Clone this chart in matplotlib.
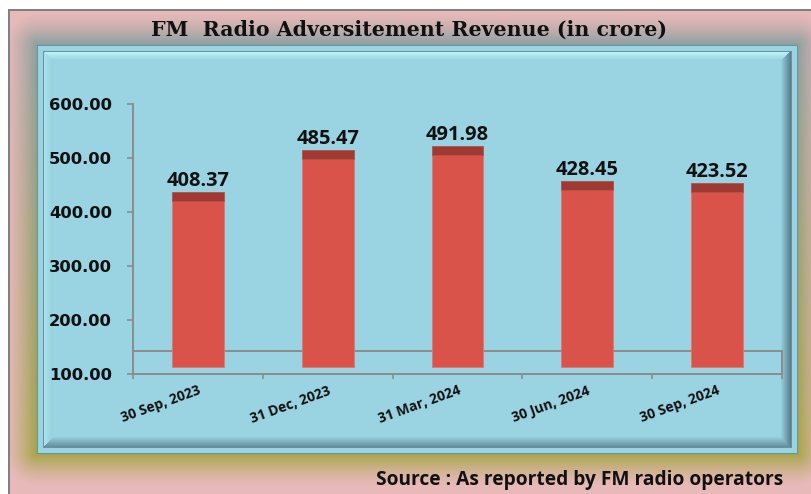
import numpy as np
import matplotlib
matplotlib.use("Agg")
import matplotlib.pyplot as plt
from matplotlib.transforms import offset_copy

# ---- data -------------------------------------------------------------
quarters = ["30 Sep, 2023", "31 Dec, 2023", "31 Mar, 2024", "30 Jun, 2024", "30 Sep, 2024"]
revenue = [408.37, 485.47, 491.98, 428.45, 423.52]
y_ticks = [100, 200, 300, 400, 500, 600]
y_min, y_max = 100, 600

title = "FM  Radio Adversitement Revenue (in crore)"
source = "Source : As reported by FM radio operators"

# ---- canvas -----------------------------------------------------------
W, H, DPI = 812, 494, 100
fig = plt.figure(figsize=(W / DPI, H / DPI), dpi=DPI)

yy, xx = np.mgrid[0:H, 0:W] + 0.5
img = np.ones((H, W, 3))

pink = np.array([231, 185, 184]) / 255
glow_top = np.array([140, 160, 160]) / 255
glow_bot = np.array([165, 165, 70]) / 255

# outer frame
frame = (xx >= 9) & (yy >= 10)
img[frame] = pink

# inner panel rectangle (pixels, top-down)
px0, px1, py0, py1 = 37, 797, 46, 453

# soft glow around panel
dx = np.maximum(np.maximum(px0 - xx, 0), xx - px1)
dy = np.maximum(np.maximum(py0 - yy, 0), yy - py1)
dist = np.hypot(dx, dy)
w = np.clip(1 - dist / 32.0, 0, 1) ** 1.3
t = np.clip((yy - py0) / (py1 - py0), 0, 1)[..., None]
gcol = glow_top * (1 - t) + glow_bot * t
blend = pink * (1 - w[..., None]) + gcol * w[..., None]
img[frame] = blend[frame]

# frame border
img[10:12, 9:] = np.array([128, 128, 128]) / 255
img[10:, 8:10] = np.array([128, 128, 128]) / 255

# panel fill
panel = np.array([154, 212, 227]) / 255
inside = (xx >= px0) & (xx <= px1) & (yy >= py0) & (yy <= py1)
img[inside] = panel

# bevel
bx0, bx1, by0, by1 = 43, 791, 52, 447
bw = 10.0
in_outer = (xx >= bx0) & (xx <= bx1) & (yy >= by0) & (yy <= by1)
in_inner = (xx >= bx0 + bw) & (xx <= bx1 - bw) & (yy >= by0 + bw) & (yy <= by1 - bw)
ring = in_outer & ~in_inner
dl, dr, dt, db = xx - bx0, bx1 - xx, yy - by0, by1 - yy
dstack = np.stack([dl, dr, dt, db])
side = np.argmin(dstack, axis=0)
dmin = np.min(dstack, axis=0)
tt = np.clip(dmin / bw, 0, 1)[..., None]
outer_cols = [np.array([170, 228, 238]) / 255,   # left
              np.array([88, 124, 138]) / 255,    # right
              np.array([195, 247, 253]) / 255,   # top
              np.array([100, 140, 155]) / 255]   # bottom
inner_col = np.array([150, 208, 222]) / 255
bev = np.zeros_like(img)
for k in range(4):
    c = outer_cols[k] * (1 - tt) + inner_col * tt
    m = side == k
    bev[m] = c[m]
img[ring] = bev[ring]

# thin panel outlines
line_dark = np.array([105, 145, 158]) / 255
for (x0, x1, y0, y1) in [(px0, px1, py0, py1), (bx0, bx1, by0, by1)]:
    img[y0, x0:x1 + 1] = line_dark
    img[y1, x0:x1 + 1] = line_dark
    img[y0:y1 + 1, x0] = line_dark
    img[y0:y1 + 1, x1] = line_dark

bg = fig.add_axes([0, 0, 1, 1], zorder=-5)
bg.imshow(img, extent=(0, W, H, 0), aspect="auto", interpolation="nearest")
bg.set_xlim(0, W)
bg.set_ylim(H, 0)
bg.axis("off")

# ---- chart axes -------------------------------------------------------
ax_l, ax_r, ax_top, ax_bot = 133, 782, 104.3, 373.6
ax = fig.add_axes([ax_l / W, (H - ax_bot) / H, (ax_r - ax_l) / W, (ax_bot - ax_top) / H])
ax.patch.set_alpha(0)
ax.set_xlim(0, len(quarters))
ax.set_ylim(y_min, y_max)

px_per_unit = (ax_bot - ax_top) / (y_max - y_min)
shift_px, cap_px, floor_px = 7.0, 9.0, 22.8
cap_units = cap_px / px_per_unit
floor_units = floor_px / px_per_unit

grey = "#8c8c8c"
bar_front = "#D9534A"
bar_top = "#9E3A31"

centers = np.arange(len(quarters)) + 0.5
shifted = offset_copy(ax.transData, fig=fig, x=0, y=shift_px * 72 / DPI, units="points")

# floor of the 3-D plot area
ax.plot([0, len(quarters)], [y_min + floor_units] * 2, color=grey, lw=1.4, zorder=1, clip_on=False)
ax.plot([len(quarters)] * 2, [y_min, y_min + floor_units], color=grey, lw=1.4, zorder=1, clip_on=False)

fronts = ax.bar(centers, [v - y_min for v in revenue], bottom=y_min, width=0.4,
                color=bar_front, edgecolor="#e2776e", linewidth=0.6, zorder=3)
tops = ax.bar(centers, [cap_units] * len(revenue), bottom=revenue, width=0.4,
              color=bar_top, edgecolor="#b65048", linewidth=0.6, zorder=3)
for p in list(fronts) + list(tops):
    p.set_transform(shifted)
    p.set_clip_on(False)

for xc, v in zip(centers, revenue):
    ax.annotate(f"{v:.2f}", (xc, v), xytext=(0, 22 * 72 / DPI), textcoords="offset points",
                ha="center", va="baseline", fontsize=14.4, fontweight="bold",
                family=["Open Sans", "DejaVu Sans"], color="#111111", zorder=5)

# axes styling
for s in ("top", "right"):
    ax.spines[s].set_visible(False)
for s in ("left", "bottom"):
    ax.spines[s].set_color(grey)
    ax.spines[s].set_linewidth(1.4)

ax.set_yticks(y_ticks, [f"{t:.2f}" for t in y_ticks])
ax.tick_params(axis="y", length=6 * 72 / DPI, width=1.2, color=grey, pad=15 * 72 / DPI,
               labelsize=11.8, labelcolor="#111111")
for lab in ax.get_yticklabels():
    lab.set_fontweight("bold")
    lab.set_family("DejaVu Sans")

ax.set_xticks(centers, quarters)
ax.set_xticks(np.arange(len(quarters) + 1), minor=True)
ax.tick_params(axis="x", which="major", length=0, pad=10 * 72 / DPI, labelsize=10,
               labelcolor="#111111")
ax.tick_params(axis="x", which="minor", length=5 * 72 / DPI, width=1.2, color=grey)
for lab in ax.get_xticklabels():
    lab.set_rotation(20)
    lab.set_ha("right")
    lab.set_va("top")
    lab.set_rotation_mode("anchor")
    lab.set_fontweight("bold")
    lab.set_family(["Open Sans", "DejaVu Sans"])

# ---- titles -----------------------------------------------------------
fig.text(409 / W, 1 - 36 / H, title, ha="center", va="baseline", fontsize=14.8,
         fontweight="bold", family=["DejaVu Serif"], color="#111111")
fig.text(783 / W, 1 - 485 / H, source, ha="right", va="baseline", fontsize=13.8,
         fontweight="bold", family=["Open Sans", "DejaVu Sans"], color="#111111")

fig.savefig("out.png", dpi=DPI)
